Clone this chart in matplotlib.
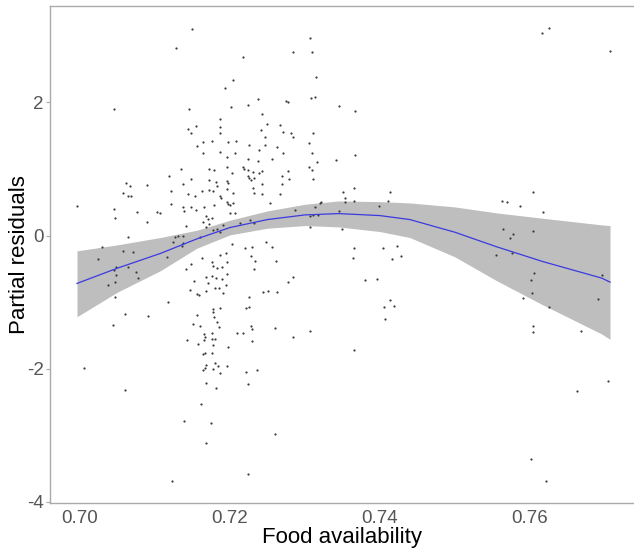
import numpy as np
import matplotlib
matplotlib.use('Agg')
import matplotlib.pyplot as plt

plt.rcParams['font.family'] = ['Liberation Sans', 'DejaVu Sans']

#-------------------------------------------------------------------------------
# DATA

#partial residuals, left of 0.711
x_left = [0.6996, 0.7045, 0.7061, 0.7067, 0.7057, 0.7064, 0.7068, 0.7089, 0.7045, 0.7047,
          0.7076, 0.7103, 0.7107, 0.7089, 0.7064, 0.7029, 0.7024, 0.7057, 0.7071, 0.7048,
          0.7045, 0.7048, 0.7064, 0.7075, 0.7077, 0.7047, 0.7037, 0.7047, 0.7060, 0.7091,
          0.7044, 0.7005, 0.7060, 0.7117]
y_left = [0.44, 1.90, 0.79, 0.74, 0.64, 0.59, 0.59, 0.76, 0.40, 0.26,
          0.35, 0.35, 0.34, 0.20, -0.02, -0.17, -0.35, -0.23, -0.25, -0.47,
          -0.52, -0.59, -0.47, -0.55, -0.64, -0.70, -0.74, -0.92, -1.18, -1.21,
          -1.35, -1.99, -2.32, -1.00]

#partial residuals, centre cluster above zero
x_upper = [0.7149, 0.7128, 0.7217, 0.7204, 0.7193, 0.7145, 0.7201, 0.7224, 0.7237, 0.7275,
           0.7277, 0.7284, 0.7307, 0.7309, 0.7315, 0.7308, 0.7313, 0.7345, 0.7367, 0.7187,
           0.7187, 0.7155, 0.7144, 0.7148, 0.7187, 0.7243, 0.7249, 0.7267, 0.7271, 0.7281,
           0.7284, 0.7241, 0.7247, 0.7164, 0.7176, 0.7156, 0.7164, 0.7197, 0.7208, 0.7187,
           0.7207, 0.7225, 0.7247, 0.7239, 0.7263, 0.7305, 0.7311, 0.7271, 0.7309, 0.7196,
           0.7224, 0.7256, 0.7237, 0.7316, 0.7341, 0.7367, 0.7135, 0.7172, 0.7179, 0.7196,
           0.7217, 0.7219, 0.7224, 0.7231, 0.7239, 0.7243, 0.7119, 0.7148, 0.7137, 0.7172,
           0.7181, 0.7183, 0.7196, 0.7197, 0.7203, 0.7224, 0.7225, 0.7228, 0.7232, 0.7243,
           0.7231, 0.7232, 0.7243, 0.7277, 0.7279, 0.7269, 0.7269, 0.7267, 0.7305, 0.7309,
           0.7311, 0.7121, 0.7144, 0.7153, 0.7163, 0.7172, 0.7177, 0.7196, 0.7204, 0.7187,
           0.7188, 0.7196, 0.7197, 0.7200, 0.7121, 0.7137, 0.7148, 0.7139, 0.7155, 0.7165,
           0.7179, 0.7168, 0.7164, 0.7171, 0.7176, 0.7172, 0.7168, 0.7204, 0.7200, 0.7207,
           0.7191, 0.7141, 0.7213, 0.7253, 0.7320, 0.7287, 0.7307, 0.7311, 0.7317, 0.7307,
           0.7227, 0.7232, 0.7345, 0.7351, 0.7365, 0.7353, 0.7353, 0.7365, 0.7321, 0.7413,
           0.7411, 0.7399, 0.7349, 0.7160, 0.7177, 0.7183, 0.7187, 0.7313]
y_upper = [3.11, 2.82, 2.68, 2.34, 2.22, 1.90, 1.93, 1.96, 2.05, 2.02,
           2.01, 2.76, 2.97, 2.76, 2.38, 2.07, 2.08, 1.95, 1.87, 1.75,
           1.63, 1.65, 1.60, 1.54, 1.54, 1.83, 1.68, 1.66, 1.56, 1.54,
           1.48, 1.59, 1.48, 1.41, 1.42, 1.35, 1.24, 1.41, 1.42, 1.26,
           1.24, 1.36, 1.36, 1.29, 1.33, 1.39, 1.54, 1.24, 1.24, 1.18,
           1.15, 1.15, 1.12, 1.11, 1.14, 1.21, 1.00, 1.00, 0.98, 1.03,
           1.03, 1.00, 0.98, 0.95, 0.94, 0.97, 0.89, 0.85, 0.77, 0.83,
           0.80, 0.74, 0.82, 0.79, 0.94, 0.89, 0.86, 0.83, 0.86, 0.77,
           0.71, 0.64, 0.62, 0.97, 0.85, 0.89, 0.77, 0.62, 1.03, 0.98,
           0.85, 0.67, 0.62, 0.59, 0.67, 0.68, 0.67, 0.70, 0.64, 0.59,
           0.56, 0.50, 0.47, 0.46, 0.47, 0.43, 0.43, 0.37, 0.38, 0.43,
           0.46, 0.29, 0.20, 0.25, 0.26, 0.17, 0.13, 0.49, 0.34, 0.34,
           0.16, 0.14, 0.19, 0.49, 0.49, 0.38, 0.29, 0.31, 0.31, 0.13,
           0.23, 0.19, 0.37, 0.65, 0.71, 0.56, 0.50, 0.52, 0.50, 0.65,
           0.52, 0.44, 0.10, -0.02, 0.08, 0.10, 0.05, 0.43]

#partial residuals, centre cluster below zero
x_lower = [0.7127, 0.7131, 0.7137, 0.7124, 0.7137, 0.7136, 0.7116, 0.7203, 0.7163, 0.7187,
           0.7195, 0.7148, 0.7141, 0.7176, 0.7177, 0.7189, 0.7183, 0.7196, 0.7196, 0.7152,
           0.7168, 0.7176, 0.7181, 0.7189, 0.7171, 0.7195, 0.7147, 0.7156, 0.7159, 0.7168,
           0.7180, 0.7185, 0.7191, 0.7177, 0.7177, 0.7187, 0.7179, 0.7156, 0.7151, 0.7160,
           0.7183, 0.7185, 0.7165, 0.7167, 0.7176, 0.7143, 0.7165, 0.7176, 0.7180, 0.7157,
           0.7177, 0.7197, 0.7209, 0.7217, 0.7164, 0.7167, 0.7176, 0.7168, 0.7167, 0.7180,
           0.7184, 0.7196, 0.7177, 0.7164, 0.7187, 0.7221, 0.7236, 0.7221, 0.7225, 0.7225,
           0.7220, 0.7229, 0.7248, 0.7256, 0.7228, 0.7233, 0.7232, 0.7261, 0.7284, 0.7277,
           0.7244, 0.7251, 0.7263, 0.7228, 0.7229, 0.7229, 0.7260, 0.7284, 0.7307, 0.7168,
           0.7181, 0.7224, 0.7161, 0.7139, 0.7175, 0.7260, 0.7168, 0.7224, 0.7123]
y_lower = [-0.02, -0.01, -0.01, -0.10, -0.11, -0.16, -0.32, -0.13, -0.34, -0.29,
           -0.26, -0.43, -0.50, -0.40, -0.46, -0.47, -0.49, -0.40, -0.58, -0.68,
           -0.62, -0.61, -0.64, -0.65, -0.71, -0.74, -0.82, -0.88, -0.89, -0.83,
           -0.79, -0.79, -0.86, -1.11, -1.15, -1.09, -1.23, -1.20, -1.33, -1.36,
           -1.30, -1.38, -1.48, -1.53, -1.47, -1.57, -1.57, -1.56, -1.56, -1.63,
           -1.65, -1.68, -1.47, -1.47, -1.78, -1.77, -1.77, -1.95, -1.99, -1.92,
           -1.96, -1.96, -2.01, -2.02, -2.07, -2.05, -2.02, -1.09, -1.08, -0.92,
           -0.19, -0.17, -0.10, -0.17, -0.31, -0.38, -0.50, -0.38, -0.62, -0.70,
           -0.85, -0.83, -0.85, -1.36, -1.41, -1.59, -1.39, -1.53, -1.44, -2.22,
           -2.29, -2.23, -2.53, -2.79, -2.82, -2.99, -3.12, -3.59, -3.69]

#partial residuals, right of 0.736
x_right = [0.7616, 0.7625, 0.7707, 0.7563, 0.7569, 0.7587, 0.7604, 0.7617, 0.7564, 0.7577,
           0.7573, 0.7604, 0.7380, 0.7396, 0.7405, 0.7413, 0.7419, 0.7407, 0.7365, 0.7365,
           0.7364, 0.7404, 0.7416, 0.7423, 0.7428, 0.7555, 0.7576, 0.7605, 0.7601, 0.7603,
           0.7591, 0.7625, 0.7696, 0.7691, 0.7604, 0.7604, 0.7668, 0.7704, 0.7663, 0.7601,
           0.7621]
y_right = [3.05, 3.12, 2.77, 0.52, 0.50, 0.44, 0.65, 0.35, 0.10, 0.02,
           -0.04, 0.07, -0.67, -0.65, -1.08, -0.97, -1.06, -1.26, -1.72, -0.19,
           -0.34, -0.19, -0.35, -0.16, -0.31, -0.29, -0.26, -0.56, -0.67, -0.86,
           -0.94, -1.08, -0.59, -0.95, -1.36, -1.45, -1.44, -2.19, -2.34, -3.36,
           -3.69]

#smoothed fit and its confidence band
fit_x = [0.6996, 0.7050, 0.7107, 0.7156, 0.7200, 0.7250, 0.7300, 0.7345, 0.7400,
         0.7440, 0.7500, 0.7556, 0.7617, 0.7696, 0.7707]
fit_y = [-0.72, -0.49, -0.27, -0.05, 0.12, 0.24, 0.31, 0.33, 0.30,
         0.24, 0.05, -0.17, -0.39, -0.64, -0.70]
fit_hi = [-0.23, -0.14, -0.03, 0.08, 0.23, 0.37, 0.47, 0.52, 0.51,
          0.49, 0.43, 0.34, 0.26, 0.16, 0.15]
fit_lo = [-1.22, -0.85, -0.53, -0.19, 0.01, 0.11, 0.15, 0.13, 0.06,
          -0.03, -0.32, -0.68, -1.04, -1.48, -1.56]

#-------------------------------------------------------------------------------
# PLOT

food = np.concatenate([x_left, x_upper, x_lower, x_right])
resid = np.concatenate([y_left, y_upper, y_lower, y_right])

fig = plt.figure(figsize=(6.34, 5.54), dpi=100)
ax = fig.add_axes([50/634, 51/554, 584/634, 497/554])

ax.fill_between(fit_x, fit_lo, fit_hi, color='#bebebe', lw=0, zorder=1)
ax.scatter(food, resid, s=2.5, color='#3a3a3a', lw=0, zorder=2)
ax.plot(fit_x, fit_y, color='#3a3ae0', lw=0.9, zorder=3)

ax.set_xlim(0.696, 0.7739)
ax.set_ylim(-4.02, 3.45)
ax.set_xticks([0.70, 0.72, 0.74, 0.76])
ax.set_xticklabels(['0.70', '0.72', '0.74', '0.76'])
ax.set_yticks([-4, -2, 0, 2])
ax.set_yticklabels(['-4', '-2', '0', '2'])
ax.tick_params(labelsize=13.5, labelcolor='#555555', color='#aaaaaa', length=3, width=0.8, pad=1.5)
ax.tick_params(axis='x', length=0, pad=5)

for s in ['top', 'left', 'bottom']:
    ax.spines[s].set_color('#aaaaaa')
    ax.spines[s].set_linewidth(1.0)
ax.spines['right'].set_visible(False)

ax.set_xlabel('Food availability', fontsize=16, color='black', labelpad=0)
ax.set_ylabel('Partial residuals', fontsize=16, color='black')
ax.yaxis.set_label_coords(-0.034, 0.5)

fig.savefig('out.png', dpi=100)
